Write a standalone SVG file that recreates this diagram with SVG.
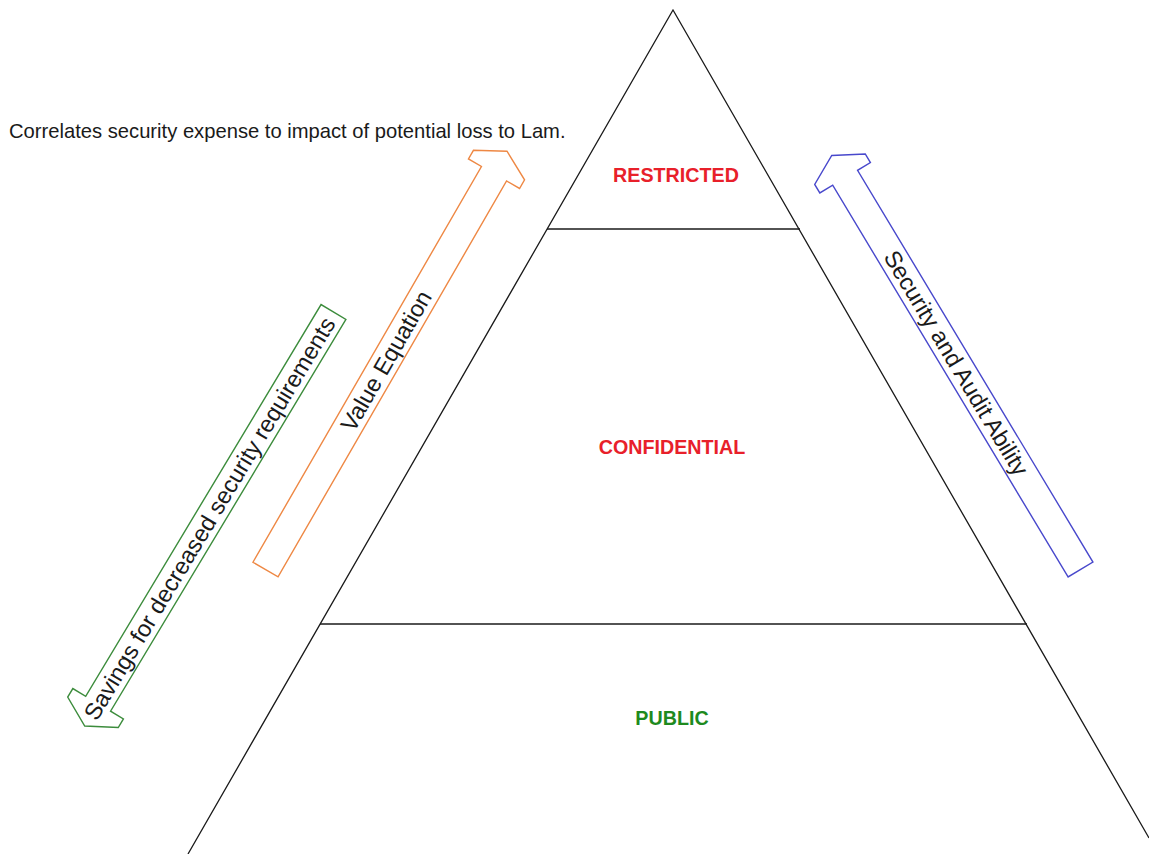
<svg xmlns="http://www.w3.org/2000/svg" width="1149" height="854" viewBox="0 0 1149 854">
<style>
.edge{fill:none;stroke:#1a1a1a;stroke-width:1.3}
.tier{font-family:"Liberation Sans",Arial,sans-serif;font-weight:bold;font-size:19.7px;text-anchor:middle}
.arrow{fill:#ffffff;stroke-width:1.4;stroke-linejoin:miter}
.alabel{font-family:"Liberation Sans",Arial,sans-serif;font-size:23.5px;fill:#1a1a1a;text-anchor:middle}
.note{font-family:"Liberation Sans",Arial,sans-serif;font-size:20.2px;fill:#1a1a1a}
</style>
<defs>
<path id="blockArrow" d="M0,-14.5 L457,-14.5 L457,-29.5 L467,-29.5 L483,0 L467,29.5 L457,29.5 L457,14.5 L0,14.5 Z"/>
</defs>
<rect width="1149" height="854" fill="#ffffff"/>
<g id="connectors">
<polyline class="edge" points="188,854 673,10 1149,838"/>
<line class="edge" x1="547" y1="229" x2="800" y2="229"/>
<line class="edge" x1="320" y1="624" x2="1027" y2="624"/>
</g>
<g id="restricted"><text class="tier" x="676" y="182" fill="#e8202a">RESTRICTED</text></g>
<g id="confidential"><text class="tier" x="672" y="454" fill="#e8202a">CONFIDENTIAL</text></g>
<g id="public"><text class="tier" x="672" y="725" fill="#1e8a1e">PUBLIC</text></g>
<g id="note"><text class="note" x="9" y="138">Correlates security expense to impact of potential loss to Lam.</text></g>
<g id="value-equation" transform="translate(265.5,569.5) rotate(-60)">
<use href="#blockArrow" class="arrow" stroke="#ee8844"/>
<text class="alabel" x="241" y="0" dy="0.35em">Value Equation</text>
</g>
<g id="security-audit" transform="translate(1080.5,569.5) rotate(-121)">
<use href="#blockArrow" class="arrow" stroke="#4848cc"/>
<text class="alabel" transform="translate(241,0) rotate(180)" dy="0.35em">Security and Audit Ability</text>
</g>
<g id="savings" transform="translate(333.5,312) rotate(121)">
<use href="#blockArrow" class="arrow" stroke="#3c8c3c"/>
<text class="alabel" transform="translate(241,0) rotate(180)" dy="0.35em">Savings for decreased security requirements</text>
</g>
</svg>
